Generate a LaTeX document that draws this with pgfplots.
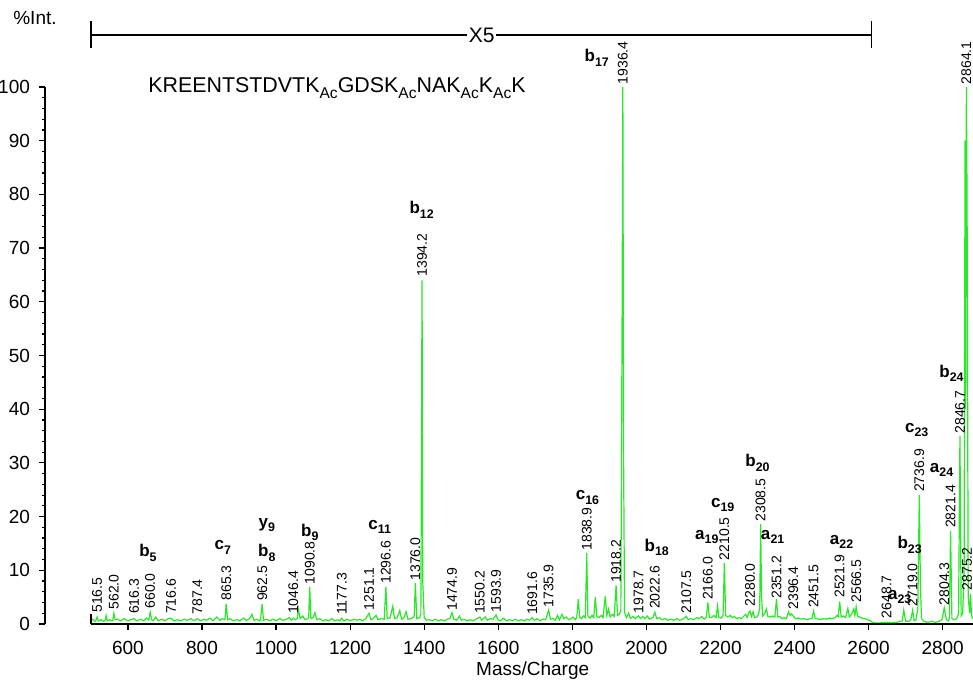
\documentclass[border=0pt]{standalone}
\usepackage{pgfplots}
\pgfplotsset{compat=1.18}
\usepackage{fontspec}
\setmainfont{Liberation Sans}
\definecolor{specgreen}{RGB}{40,232,40}
\tikzset{
  pklab/.style={rotate=90, anchor=west, inner sep=0.6pt, font=\fontsize{7}{7}\selectfont},
  ionlab/.style={inner sep=0pt, font=\fontsize{8.5}{8.5}\selectfont},
}
\newcommand\ion[2]{\textbf{#1}\raisebox{-0.5ex}{\bfseries\fontsize{6.2}{6.2}\selectfont #2}}
\newcommand\ac{\raisebox{-0.55ex}{\fontsize{7.8}{7.8}\selectfont Ac}}
\newcommand\pk[2]{\node[pklab] at (axis cs:#1,#2) {#1};}
\newcommand\io[4]{\node[ionlab] at (axis cs:#1,#2) {\ion{#3}{#4}};}

\begin{document}
\begin{tikzpicture}
\begin{axis}[
    name=ax,
    scale only axis,
    width=464pt, height=268.5pt,
    xmin=376, xmax=2882, ymin=0, ymax=100,
    axis lines=left,
    axis line style={line width=1pt, -},
    x axis line style={draw=none},
    xtick={600,800,...,2800},
    ytick={0,10,...,100},
    minor y tick num=4,
    tick align=outside,
    major tick length=3pt, minor tick length=1.5pt,
    every tick/.style={black, line width=0.6pt},
    tick label style={font=\fontsize{9.5}{9.5}\selectfont},
    xticklabel style={yshift=-2pt},
    yticklabel style={xshift=-1pt},
    /pgf/number format/assume math mode=true,
    /pgf/number format/set thousands separator={},
    clip=false,
]
\addplot[color=specgreen, line width=0.6pt] coordinates {
(500,0.6)(505,0.9)(510,0.5)(513,0.6)(516.5,1.3)(520,0.6)(528,0.8)(534,0.5)(538,0.6)(541,1.6)(544,0.6)
(550,0.8)(556,0.6)(559,0.7)(562,2.0)(565,0.8)(572,0.9)(580,0.6)(590,1.0)(600,0.6)(608,0.8)(616.3,1.0)
(624,0.6)(634,0.9)(642,0.6)(650,1.1)(656,0.7)(660,2.2)(664,0.8)(668,0.6)(675,1.3)(682,0.6)(692,0.9)
(700,0.6)(708,1.0)(716.6,1.1)(724,0.6)(734,0.8)(742,0.6)(752,0.9)(760,0.7)(770,1.0)(778,0.6)(787.4,1.0)
(796,0.6)(805,0.9)(812,0.7)(822,1.1)(830,0.6)(840,1.3)(848,0.7)(855,1.0)(862,0.8)(865.3,3.8)(869,0.8)
(876,1.0)(884,0.6)(894,0.8)(902,0.6)(912,1.1)(920,0.7)(928,1.0)(935,1.8)(940,0.7)(948,0.9)(955,0.6)
(958,0.8)(962.5,3.7)(966,0.7)(974,0.9)(982,0.6)(992,0.9)(1000,0.6)(1010,1.0)(1018,0.7)(1028,0.9)
(1036,1.2)(1042,0.7)(1046.4,1.1)(1052,0.8)(1057,1.0)(1060,2.9)(1065,1.0)(1072,1.5)(1078,0.8)(1085,1.0)
(1088,1.2)(1090.8,6.9)(1094,1.0)(1100,1.2)(1105,2.1)(1110,0.8)(1118,1.0)(1126,0.6)(1134,0.8)(1142,0.6)
(1150,1.0)(1158,0.6)(1166,0.8)(1172,0.6)(1177.3,1.1)(1183,0.6)(1192,0.9)(1200,0.6)(1210,0.9)(1218,0.7)
(1226,0.9)(1234,0.6)(1242,1.0)(1251.1,2.0)(1256,0.8)(1262,1.0)(1270,1.6)(1275,0.8)(1283,1.0)(1292,0.9)
(1296.6,6.9)(1300,1.0)(1308,1.2)(1315,3.3)(1320,1.0)(1327,1.2)(1334,2.5)(1339,0.9)(1345,1.1)(1351,2.3)
(1356,0.9)(1363,1.0)(1370,1.2)(1373,1.5)(1376.0,7.6)(1380,1.0)(1388,1.2)(1391,2.0)(1394.2,64)(1396,8)
(1400,1.2)(1406,0.7)(1414,0.8)(1422,0.6)(1430,0.9)(1438,0.6)(1446,0.8)(1454,0.6)(1462,0.9)(1469,1.0)
(1474.9,2.1)(1480,0.9)(1488,0.7)(1495,1.5)(1500,0.7)(1508,0.9)(1516,0.6)(1524,0.8)(1532,0.6)(1540,0.9)
(1550.2,1.3)(1555,0.7)(1560,1.0)(1565,1.3)(1570,0.7)(1578,1.0)(1586,0.9)(1593.9,1.7)(1599,0.8)(1606,0.6)
(1614,1.1)(1622,0.6)(1630,0.8)(1638,0.6)(1646,0.9)(1654,0.6)(1662,0.8)(1670,0.6)(1678,0.9)(1684,0.7)
(1691.6,1.2)(1697,0.7)(1705,1.0)(1712,0.6)(1720,0.9)(1728,0.8)(1735.9,2.6)(1741,0.9)(1748,1.0)(1754,0.7)
(1760,1.6)(1765,0.8)(1772,1.8)(1777,1.0)(1784,1.3)(1790,0.8)(1796,1.0)(1802,1.3)(1808,0.8)(1812,1.2)
(1816,4.6)(1820,1.2)(1825,1.0)(1830,1.5)(1835,1.2)(1838.9,13.2)(1842,1.5)(1848,1.1)(1853,1.6)(1858,1.2)
(1862,5.0)(1866,1.4)(1872,1.2)(1878,1.6)(1883,1.2)(1889,5.2)(1893,1.6)(1898,2.8)(1902,1.3)(1908,1.8)
(1913,1.4)(1918.2,7.2)(1922,1.6)(1927,1.8)(1931,2.5)(1934.5,59)(1936.4,100)(1938.5,30)(1941,2.2)
(1946,1.2)(1952,2.0)(1957,1.0)(1963,1.4)(1970,1.0)(1978.7,1.5)(1984,1.0)(1990,1.4)(1996,1.0)(2002,1.5)
(2008,0.9)(2014,1.1)(2018,1.2)(2022.6,2.2)(2028,1.0)(2035,1.2)(2042,0.8)(2050,1.0)(2058,0.7)(2066,0.9)
(2074,0.7)(2082,1.0)(2090,0.7)(2098,0.9)(2107.5,1.4)(2113,0.8)(2120,1.0)(2128,0.8)(2136,1.2)(2142,1.0)
(2150,1.4)(2156,0.9)(2162,1.3)(2166.0,4.0)(2170,1.2)(2176,1.2)(2182,1.6)(2188,1.2)(2192,3.4)(2196,1.2)
(2202,1.1)(2207,1.6)(2210.5,11.4)(2214,1.6)(2220,1.3)(2226,1.6)(2232,1.2)(2238,1.4)(2244,1.0)(2250,1.2)
(2256,1.0)(2262,1.4)(2268,1.8)(2272,1.2)(2277,2.2)(2280.0,2.4)(2284,1.4)(2288,2.3)(2292,1.2)(2298,1.3)
(2303,1.8)(2306,3.0)(2308.5,18.6)(2311,5.0)(2314,1.5)(2320,2.0)(2324,2.8)(2328,1.4)(2334,1.3)(2340,1.5)
(2347,1.3)(2351.2,4.6)(2355,1.3)(2360,1.4)(2366,1.0)(2372,1.2)(2378,1.0)(2384,2.3)(2388,1.6)(2392,1.9)
(2396.4,1.5)(2402,1.0)(2410,1.1)(2418,0.9)(2426,1.0)(2434,0.8)(2442,1.0)(2447,1.0)(2451.5,2.4)(2456,1.0)
(2462,1.0)(2470,0.8)(2478,1.0)(2486,0.9)(2494,1.1)(2502,1.0)(2510,1.2)(2515,1.6)(2518,1.4)(2521.9,4.2)
(2526,1.3)(2532,1.5)(2538,1.2)(2544,2.9)(2548,1.3)(2554,1.8)(2560,2.8)(2563,1.6)(2566.5,3.2)(2570,1.4)
(2576,1.3)(2582,1.1)(2590,1.0)(2598,0.8)(2605,0.6)(2610,0.3)(2614,0.2)(2630,0.2)(2648.7,0.3)(2660,0.2)
(2675,0.3)(2685,0.5)(2691,0.6)(2695,2.6)(2700,0.5)(2708,0.5)(2714,0.8)(2719.0,2.6)(2723,0.6)(2728,0.8)
(2733,3.0)(2736.9,24)(2740,7.0)(2743,1.0)(2750,0.5)(2760,0.3)(2770,0.5)(2780,0.3)(2790,0.5)(2798,0.8)
(2804.3,3.0)(2810,0.8)(2815,0.6)(2818,1.0)(2821.4,17.3)(2825,1.0)(2832,0.8)(2838,1.0)(2843,2.0)
(2846.7,35)(2850,1.5)(2854,2.0)(2858,10)(2860.5,90)(2862,40)(2864.1,100)(2866,77.6)(2869,5.0)
(2873,2.0)(2875.2,5.6)(2878,1.5)(2882,1.0)
};
% axis lines (x axis starts at 500) and titles
\draw[line width=1pt] (axis cs:376,0) -- (axis cs:376,100);
\draw[line width=1pt] (axis cs:500,0) -- (axis cs:2882,0);
\draw[line width=0.8pt] (axis cs:500,0) -- (axis cs:500,1.8);
\node[font=\fontsize{9.5}{9.5}\selectfont] at (axis cs:1693,-8.6) {Mass/Charge};
\node[font=\fontsize{9.5}{9.5}\selectfont] at (axis cs:349,112.8) {\%Int.};
\draw[line width=0.9pt] (axis cs:500,109.7) -- (axis cs:2608,109.7);
\draw[line width=0.9pt] (axis cs:500,107.2) -- (axis cs:500,112.2);
\draw[line width=0.9pt] (axis cs:2608,107.2) -- (axis cs:2608,112.2);
\node[fill=white, inner sep=1pt, font=\fontsize{10.5}{10.5}\selectfont] at (axis cs:1555,109.7) {X5};
\node[anchor=west, inner sep=0pt, font=\fontsize{10.7}{10.7}\selectfont] at (axis cs:654,99.8)
  {KREENTSTDVTK\ac GDSK\ac NAK\ac K\ac K};
% peak labels
\pk{516.5}{1.8}\pk{562.0}{2.4}\pk{616.3}{1.6}\pk{660.0}{2.6}\pk{716.6}{1.6}\pk{787.4}{1.5}
\pk{865.3}{4.1}\pk{962.5}{4.0}\pk{1046.4}{1.6}\pk{1090.8}{7.1}\pk{1177.3}{1.4}\pk{1251.1}{2.3}
\pk{1296.6}{7.2}\pk{1376.0}{7.8}\pk{1394.2}{64.4}\pk{1474.9}{2.2}\pk{1550.2}{1.6}\pk{1593.9}{1.9}
\pk{1691.6}{1.4}\pk{1735.9}{2.8}\pk{1838.9}{13.4}\pk{1918.2}{7.4}\pk{1936.4}{100.2}\pk{1978.7}{1.7}
\pk{2022.6}{2.5}\pk{2107.5}{1.7}\pk{2166.0}{4.2}\pk{2210.5}{11.6}\pk{2280.0}{3.0}\pk{2308.5}{18.8}
\pk{2351.2}{4.4}\pk{2396.4}{2.4}\pk{2451.5}{2.7}\pk{2521.9}{4.6}\pk{2566.5}{3.7}\pk{2648.7}{0.8}
\pk{2719.0}{3.0}\pk{2736.9}{24.3}\pk{2804.3}{3.2}\pk{2821.4}{17.6}\pk{2846.7}{35.2}\pk{2864.1}{100.2}
\node[pklab] at (axis cs:2866,6.0) {2875.2};
% ion labels
\io{654}{13.2}{b}{5}
\io{856}{14.3}{c}{7}
\io{975}{18.4}{y}{9}
\io{975}{13.2}{b}{8}
\io{1091}{17.1}{b}{9}
\io{1280}{18.1}{c}{11}
\io{1393}{77.1}{b}{12}
\io{1866}{105.4}{b}{17}
\io{1841}{23.6}{c}{16}
\io{2028}{14.3}{b}{18}
\io{2163}{16.2}{a}{19}
\io{2206}{22.2}{c}{19}
\io{2300}{30.0}{b}{20}
\io{2341}{16.2}{a}{21}
\io{2527}{15.3}{a}{22}
\io{2684}{5.0}{a}{23}
\io{2711}{14.7}{b}{23}
\io{2730}{36.1}{c}{23}
\io{2797}{28.7}{a}{24}
\io{2824}{46.7}{b}{24}
\end{axis}
\pgfresetboundingbox
\path (ax.south west) ++(-22.5pt,-30pt) rectangle ++(486.5pt,342pt);
\end{tikzpicture}
\end{document}
